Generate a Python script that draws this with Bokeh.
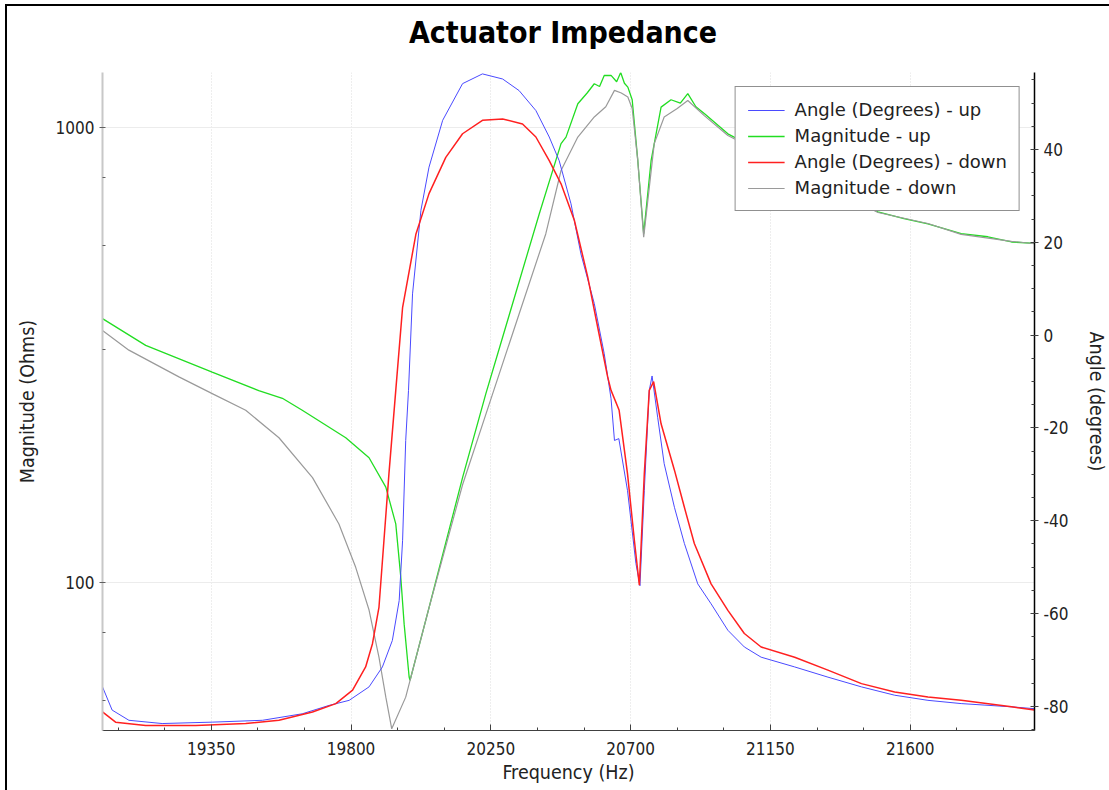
from bokeh.plotting import figure
from bokeh.layouts import column
from bokeh.models import (Range1d, LinearAxis, LinearScale, FixedTicker,
                          PrintfTickFormatter, Legend, LegendItem, Div)
from bokeh.embed import file_html
from bokeh.resources import INLINE

# ---------------- data ----------------
mag_up_freq = [19000, 19139, 19353, 19503, 19579, 19643, 19783, 19858, 19912, 19944,
               19960, 19971, 19987, 19990, 20051, 20159, 20234, 20406, 20476, 20492,
               20530, 20560, 20583, 20600, 20615, 20637, 20655, 20668, 20680, 20691,
               20705, 20723, 20742, 20766, 20798, 20830, 20860, 20884, 20910, 20938,
               21013, 21496, 21580, 21657, 21764, 21850, 21926, 22000]
mag_up_val = [380, 332, 290, 264, 254, 239, 208, 188, 162, 134.5,
              103, 81, 62, 61, 88, 170, 260, 646, 921, 952,
              1127, 1190, 1247, 1230, 1300, 1301, 1260, 1320, 1250, 1226,
              1150, 846, 584, 846, 1108, 1150, 1130, 1186, 1110, 1072,
              968, 652, 630, 614, 584, 575, 560, 556]

mag_down_freq = [19000, 19085, 19246, 19358, 19461, 19568, 19676, 19761, 19815, 19858,
                 19890, 19912, 19931, 19976, 20051, 20159, 20256, 20341, 20427, 20476,
                 20530, 20583, 20620, 20648, 20670, 20691, 20705, 20723, 20742, 20776,
                 20808, 20850, 20884, 20938, 21013, 21496, 21657, 21764, 21926, 22000]
mag_down_val = [358, 324, 283, 259, 239, 208, 170, 134.5, 108, 87,
                68.5, 56, 47.7, 56, 88, 164, 260, 389, 584, 804,
                952, 1054, 1110, 1206, 1190, 1166, 1100, 846, 574, 921,
                1054, 1100, 1146, 1060, 960, 650, 615, 582, 562, 555]

ang_up_freq = [19000, 19031, 19085, 19192, 19353, 19515, 19643, 19729, 19794, 19858,
               19901, 19933, 19955, 19966, 19976, 19985, 19998, 20025, 20051, 20095,
               20159, 20223, 20288, 20341, 20395, 20438, 20470, 20508, 20540, 20583,
               20615, 20637, 20648, 20662, 20690, 20717, 20730, 20744, 20760, 20769,
               20787, 20808, 20841, 20873, 20916, 20959, 21013, 21066, 21120, 21228,
               21335, 21443, 21550, 21657, 21764, 21926, 22000]
ang_up_val = [-75.8, -80.8, -83.0, -83.7, -83.4, -83.0, -81.6, -79.8, -78.7, -75.8,
              -71.5, -65.8, -57.2, -44.2, -22.7, -11.9, 8.9, 26.9, 36.2, 46.3,
              54.2, 56.3, 55.2, 52.7, 48.4, 42.7, 37.6, 28.3, 17.5, 6.8,
              -4.0, -13.7, -22.7, -22.3, -33.5, -49.2, -54.0, -33.5, -11.9, -8.8,
              -17.7, -27.7, -37.1, -44.9, -53.6, -57.9, -63.6, -67.2, -69.4, -71.5,
              -73.7, -75.8, -77.6, -78.7, -79.4, -80.1, -80.5]

ang_down_freq = [19000, 19042, 19139, 19300, 19461, 19568, 19676, 19751, 19805, 19847,
                 19869, 19890, 19906, 19922, 19944, 19966, 20009, 20051, 20105, 20159,
                 20223, 20288, 20352, 20395, 20438, 20476, 20519, 20562, 20594, 20626,
                 20637, 20663, 20690, 20712, 20728, 20744, 20760, 20774, 20798, 20841,
                 20873, 20905, 20959, 21013, 21066, 21120, 21228, 21335, 21443, 21550,
                 21657, 21764, 21926, 22000]
ang_down_val = [-81.2, -83.4, -84.1, -84.1, -83.7, -83.0, -81.2, -79.4, -76.5, -71.5,
                -66.5, -58.6, -44.2, -29.9, -11.9, 6.0, 21.8, 30.5, 38.3, 43.4,
                46.3, 46.6, 45.5, 42.7, 37.6, 32.6, 24.7, 12.5, 1.7, -9.0,
                -11.9, -16.2, -29.9, -44.2, -53.9, -29.9, -11.9, -10.0, -19.1, -29.1,
                -37.1, -44.9, -53.6, -59.3, -64.3, -67.2, -69.4, -72.2, -75.1, -76.9,
                -78.0, -78.7, -80.1, -80.8]

x_major = [19350, 19800, 20250, 20700, 21150, 21600]
x_minor = [19050 + 150 * i for i in range(20)]
mag_major = [100, 1000]
mag_minor = [55, 77.5, 325, 550, 775]
ang_major = [-80, -60, -40, -20, 0, 20, 40]
ang_minor = list(range(-85, 60, 5))

TITLE = "Actuator Impedance"
FONT = "DejaVu Sans Condensed, DejaVu Sans"
FONT_WIDE = "DejaVu Sans"

# ---------------- title (HTML text above the plot) ----------------
title_div = Div(text='<span style="position:relative;left:5px">' + TITLE + '</span>',
                width=1102, height=54, margin=0,
                styles={"font-family": "'DejaVu Sans Condensed', 'DejaVu Sans'",
                        "font-weight": "bold", "font-size": "30px",
                        "color": "black", "text-align": "center",
                        "line-height": "54px", "width": "1102px",
                        "display": "block"})

# ---------------- figure ----------------
p = figure(frame_width=932, frame_height=658, title=None,
           min_border_left=95, min_border_top=12, min_border_right=75, min_border_bottom=60,
           x_range=Range1d(19000, 22000), y_range=Range1d(47.3, 1320),
           y_axis_type="log", output_backend="svg", toolbar_location=None,
           background_fill_color="white", border_fill_color="white",
           outline_line_color=None, margin=0)

p.extra_y_ranges = {"angle": Range1d(-85.2, 56.6)}
p.extra_y_scales = {"angle": LinearScale()}

# x axis
xa = p.xaxis[0]
xa.ticker = FixedTicker(ticks=x_major, minor_ticks=x_minor)
xa.formatter = PrintfTickFormatter(format="%d")
xa.axis_label = "Frequency (Hz)"
xa.axis_line_color = "#404040"
xa.major_tick_in = 6
xa.major_tick_out = 0
xa.minor_tick_in = 3
xa.minor_tick_out = 0
xa.major_tick_line_color = "#404040"
xa.minor_tick_line_color = "#404040"
xa.major_label_standoff = 11

# left axis (log)
ya = p.yaxis[0]
ya.ticker = FixedTicker(ticks=mag_major, minor_ticks=mag_minor)
ya.formatter = PrintfTickFormatter(format="%d")
ya.axis_label = "Magnitude (Ohms)"
ya.axis_line_color = "#c8c8c8"
ya.axis_line_width = 2
ya.major_tick_in = 3
ya.major_tick_out = 3
ya.minor_tick_in = 3
ya.minor_tick_out = 0
ya.major_tick_line_color = "#606060"
ya.minor_tick_line_color = "#606060"

# right axis (angle)
ra = LinearAxis(y_range_name="angle",
                ticker=FixedTicker(ticks=ang_major, minor_ticks=ang_minor),
                formatter=PrintfTickFormatter(format="%d"),
                axis_label="Angle (degrees)")
ra.axis_line_color = "black"
ra.axis_line_width = 1.5
ra.major_tick_in = 4
ra.major_tick_out = 4
ra.minor_tick_in = 3
ra.minor_tick_out = 0
ra.major_tick_line_color = "#404040"
ra.minor_tick_line_color = "#404040"
p.add_layout(ra, "right")

for ax in [xa, ya, ra]:
    ax.major_label_text_font = FONT
    ax.major_label_text_font_size = "17px"
    ax.major_label_text_color = "#222222"
    ax.axis_label_text_font = FONT
    ax.axis_label_text_font_size = "19.5px"
    ax.axis_label_text_font_style = "normal"
    ax.axis_label_text_color = "#222222"
xa.axis_label_standoff = 3
ya.axis_label_standoff = 14
ra.axis_label_standoff = 14

# grids
p.xgrid.ticker = FixedTicker(ticks=x_major)
p.xgrid.grid_line_color = "#dcdcdc"
p.xgrid.grid_line_dash = "1 2"
p.ygrid.ticker = FixedTicker(ticks=mag_major)
p.ygrid.grid_line_color = "#ececec"

# ---------------- lines ----------------
r_mu = p.line(mag_up_freq, mag_up_val, line_color="#22dd22", line_width=1.3)
r_md = p.line(mag_down_freq, mag_down_val, line_color="#9a9a9a", line_width=1.2)
r_au = p.line(ang_up_freq, ang_up_val, line_color="#4a4aff", line_width=1.0,
              y_range_name="angle")
r_ad = p.line(ang_down_freq, ang_down_val, line_color="#ff2020", line_width=1.5,
              y_range_name="angle")

legend = Legend(items=[
    LegendItem(label="Angle (Degrees) - up", renderers=[r_au]),
    LegendItem(label="Magnitude - up", renderers=[r_mu]),
    LegendItem(label="Angle (Degrees) - down", renderers=[r_ad]),
    LegendItem(label="Magnitude - down", renderers=[r_md]),
], location="top_right")
legend.margin = 14
legend.padding = 12
legend.spacing = 5
legend.glyph_width = 37
legend.glyph_height = 20
legend.label_height = 20
legend.label_standoff = 10
legend.label_text_font = FONT_WIDE
legend.label_text_font_size = "18px"
legend.label_text_color = "#222222"
legend.border_line_color = "#222222"
legend.border_line_width = 1.5
legend.background_fill_color = "white"
legend.background_fill_alpha = 1.0
p.add_layout(legend, "center")

layout = column(title_div, p, spacing=0,
                styles={"margin-left": "5px", "margin-top": "4px",
                        "border-left": "2px solid black", "border-top": "2px solid black",
                        "background-color": "white"})

open("out.html", "w").write(file_html(layout, INLINE))
